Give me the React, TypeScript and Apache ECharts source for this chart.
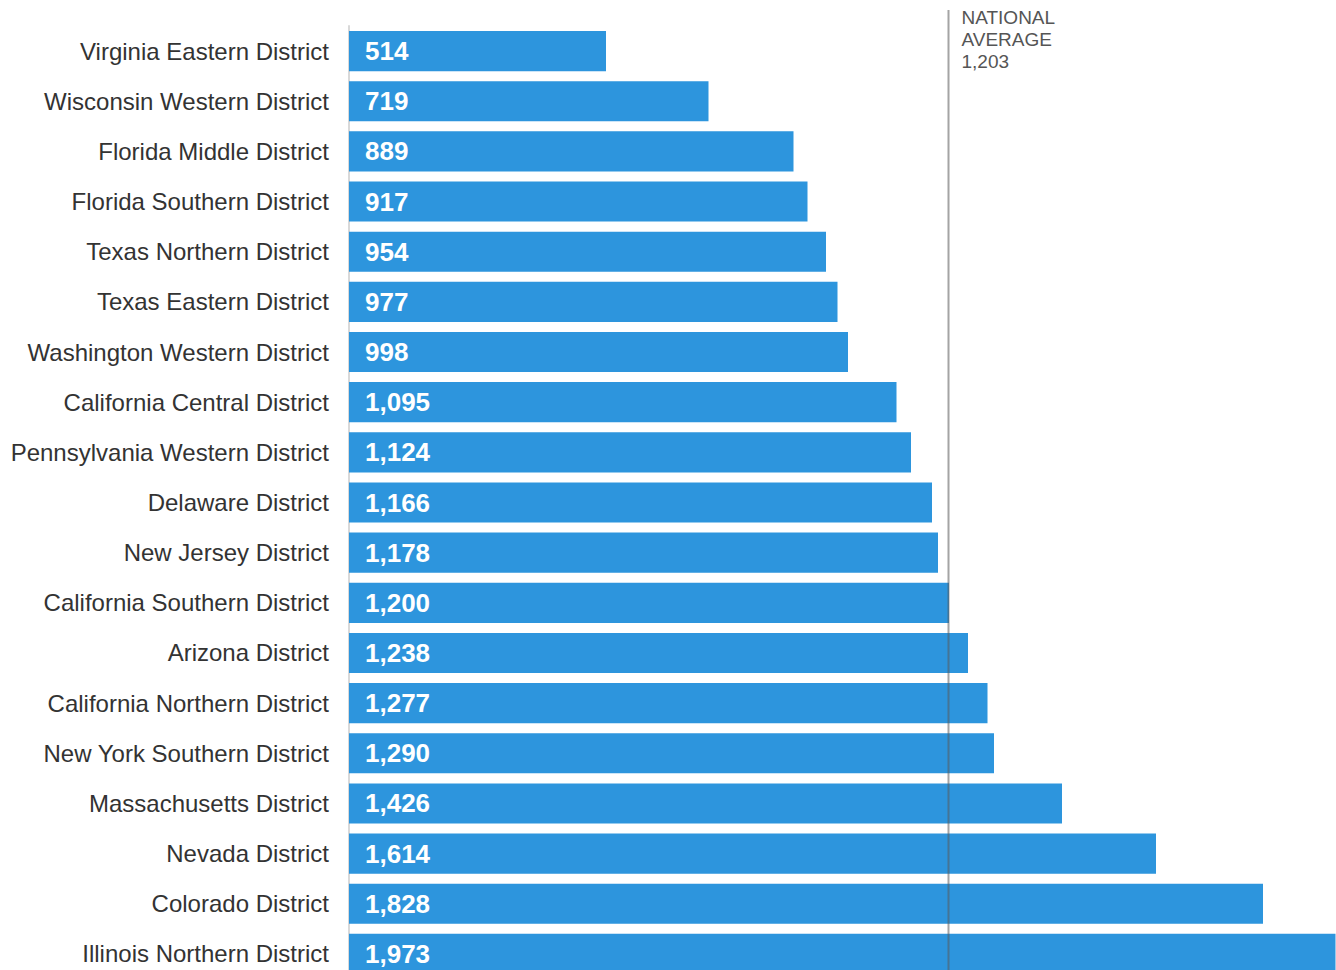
import React, { useEffect, useRef } from "react";
import * as echarts from "echarts";

const categories = [
  "Virginia Eastern District",
  "Wisconsin Western District",
  "Florida Middle District",
  "Florida Southern District",
  "Texas Northern District",
  "Texas Eastern District",
  "Washington Western District",
  "California Central District",
  "Pennsylvania Western District",
  "Delaware District",
  "New Jersey District",
  "California Southern District",
  "Arizona District",
  "California Northern District",
  "New York Southern District",
  "Massachusetts District",
  "Nevada District",
  "Colorado District",
  "Illinois Northern District",
];
const values = [514, 719, 889, 917, 954, 977, 998, 1095, 1124, 1166, 1178, 1200, 1238, 1277, 1290, 1426, 1614, 1828, 1973];
const nationalAverage = 1203;
const averageLabel = ["NATIONAL", "AVERAGE", "1,203"];

const fmt = (v: number) => v.toLocaleString("en-US");

export default function App() {
  const ref = useRef<HTMLDivElement>(null);
  useEffect(() => {
    document.body.style.margin = "0";
    const chart = echarts.init(ref.current!, null, { renderer: "svg" });
    chart.setOption({
      animation: false,
      grid: { left: 349, top: 26, width: 987, height: 953, containLabel: false },
      xAxis: {
        type: "value",
        min: 0,
        max: 1974,
        show: false,
      },
      yAxis: {
        type: "category",
        data: categories,
        inverse: true,
        axisLine: { show: true, lineStyle: { color: "#d9d9d9", width: 2 } },
        axisTick: { show: false },
        axisLabel: {
          color: "#333",
          fontSize: 24,
          fontFamily: "Liberation Sans, Arial, sans-serif",
          margin: 20,
        },
      },
      series: [
        {
          type: "bar",
          data: values,
          barCategoryGap: "20%",
          itemStyle: { color: "#2d95dd" },
          label: {
            show: true,
            position: "insideLeft",
            distance: 16,
            color: "#fff",
            fontWeight: "bold",
            fontSize: 26,
            fontFamily: "Liberation Sans, Arial, sans-serif",
            formatter: (p: any) => fmt(p.value),
          },
          z: 2,
        },
      ],
    });
    const px = chart.convertToPixel({ xAxisIndex: 0 }, nationalAverage) as number;
    chart.setOption({
      graphic: [
        {
          type: "line",
          shape: { x1: px - 2, y1: 10, x2: px - 2, y2: 1000 },
          style: { stroke: "rgba(90,90,90,0.55)", lineWidth: 2 },
          z: 100,
        },
        {
          type: "text",
          x: px + 11,
          y: 6,
          style: {
            text: averageLabel.join("\n"),
            fill: "#555",
            fontSize: 19,
            lineHeight: 22,
            fontFamily: "Liberation Sans, Arial, sans-serif",
          },
          z: 100,
        },
      ],
    });
    return () => chart.dispose();
  }, []);
  return (
    <div style={{ width: 1336, height: 970, overflow: "hidden", position: "absolute", left: 0, top: 0 }}>
      <div ref={ref} style={{ width: 1336, height: 990 }} />
    </div>
  );
}
